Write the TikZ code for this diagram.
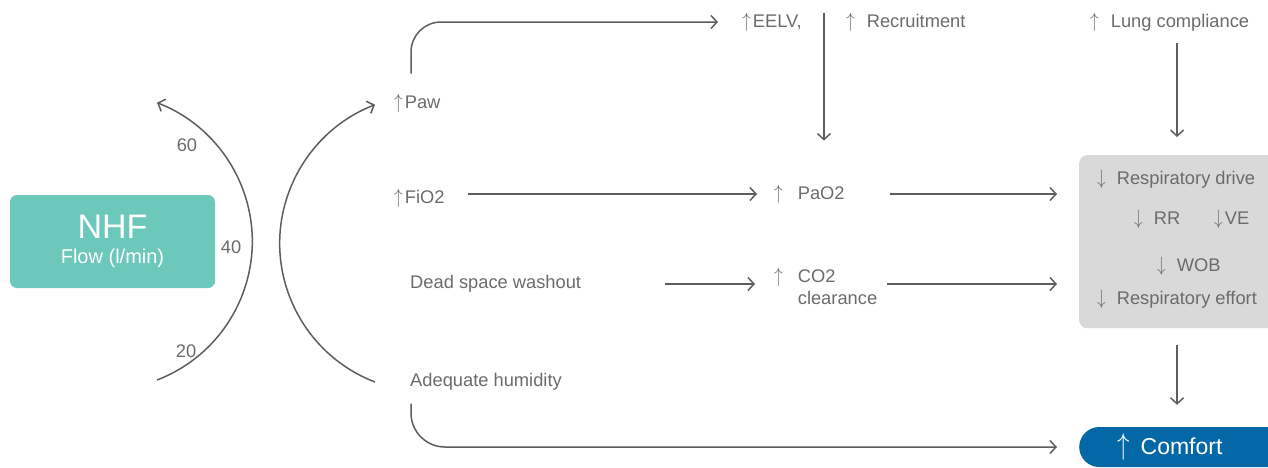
\documentclass[tikz,border=0pt]{standalone}
\usepackage{fontspec}
\setmainfont{Liberation Sans}
\usepackage{graphicx}
\usetikzlibrary{arrows.meta,calc}

\definecolor{tuerkis}{HTML}{6CC8BA}
\definecolor{blau}{HTML}{0568A6}
\definecolor{hellgrau}{HTML}{D9D9D9}
\definecolor{schrift}{HTML}{6B6B6B}
\definecolor{linie}{HTML}{5E5E5E}

\newcommand{\hoch}{\scalebox{1}[1.2]{$\uparrow$}}
\newcommand{\runter}{\scalebox{1}[1.2]{$\downarrow$}}

\begin{document}
\begin{tikzpicture}[x=1pt, y=-1pt,
		>={Straight Barb[length=6pt,width=13pt]},
		pfeil/.style={->, line width=1.5pt, draw=linie},
		txt/.style={anchor=west, inner sep=0pt, text=schrift, font=\fontsize{18.3}{22}\selectfont}]
		% Rahmen
		\useasboundingbox (0,0) rectangle (1268,467);
		\clip (0,0) rectangle (1268,467);
		
		% zeichne NHF Box
		\node[fill=tuerkis, rounded corners=7pt, minimum width=205pt, minimum height=93pt, inner sep=0pt, text=white, align=center, font=\fontsize{20}{25}\selectfont] (nhf) at (112.5,241.5) {{\fontsize{34}{36}\selectfont NHF}\\Flow (l/min)};
		
		% zeichne Skala
		\coordinate (flow20) at (157,380);
		\draw[pfeil] (flow20) arc[start angle=69, end angle=-69, radius=148.5];
		\node[txt, anchor=center] (n60) at (187,145) {60};
		\node[txt, anchor=center] (n40) at (231,247) {40};
		\node[txt, anchor=center] (n20) at (186,351) {20};
		
		% zeichne Labels
		\node[txt] (paw) at (394,103) {\hoch\hspace{2pt}Paw};
		\node[txt] (fio2) at (394,198) {\hoch\hspace{2pt}FiO2};
		\node[txt] (dead) at (410,284) {Dead space washout};
		\node[txt] (humid) at (410,382) {Adequate humidity};
		\node[txt] (eelv) at (742,22) {\hoch\hspace{2pt}EELV,};
		\node[txt] (recr) at (846,22) {\hoch\hspace{12pt}Recruitment};
		\node[txt] (lung) at (1090,22) {\hoch\hspace{12pt}Lung compliance};
		\node[txt] (pao2) at (774,194) {\hoch\hspace{15pt}PaO2};
		\node[txt] (co2) at (774,289) {\begin{tabular}{@{}l@{\hspace{15pt}}l@{}}\hoch & CO2\\ & clearance\end{tabular}};
		
		% zeichne graue Box
		\node[fill=hellgrau, rounded corners=8pt, minimum width=220pt, minimum height=173pt, anchor=north west, inner sep=0pt] (wirkung) at (1079,155) {};
		\node[txt] (drive) at (1097,179) {\runter\hspace{11pt}Respiratory drive};
		\node[txt] (rr) at (1134,219) {\runter\hspace{11pt}RR};
		\node[txt] (ve) at (1214,219) {\runter\hspace{2pt}VE};
		\node[txt] (wob) at (1157,266) {\runter\hspace{11pt}WOB};
		\node[txt] (effort) at (1097,299) {\runter\hspace{11pt}Respiratory effort};
		
		% Comfort
		\node[fill=blau, rounded corners=20pt, anchor=west, minimum height=40pt, text width=150pt, align=left, inner xsep=38pt, inner ysep=0pt, text=white, font=\fontsize{23}{26}\selectfont] (comfort) at (1079,447) {\hoch\hspace{11pt}Comfort};
		
		% zeichne Pfeile
		\coordinate (humidarc) at ([xshift=-35pt]humid.west);
		\draw[pfeil] (humidarc) arc[start angle=111, end angle=249, radius=148.5];
		
		\coordinate (pawtop) at ([xshift=17pt]paw.north west);
		\draw[pfeil, rounded corners=30pt, shorten <=20pt, shorten >=24pt] (pawtop) -- (pawtop |- eelv.west) -- (eelv.west);
		
		\coordinate (humidbot) at ([xshift=1pt]humid.south west);
		\draw[pfeil, rounded corners=34pt, shorten <=13pt, shorten >=22pt] (humidbot) -- (humidbot |- comfort.west) -- (comfort.west);
		
		\draw[pfeil, shorten <=23pt, shorten >=17pt] (fio2.east |- pao2.west) -- (pao2.west);
		\draw[pfeil, shorten <=45pt, shorten >=22pt] (pao2.east) -- (pao2.east -| wirkung.west);
		\draw[pfeil, shorten <=84pt, shorten >=19pt] (dead.east) -- (dead.east -| co2.west);
		\draw[pfeil, shorten <=10pt, shorten >=22pt] (dead.east -| co2.east) -- (dead.east -| wirkung.west);
		
		\coordinate (eelvrecr) at ($(eelv.north east)!0.5!(recr.north west)$);
		\draw[pfeil, shorten >=44pt] (eelvrecr) -- (eelvrecr |- pao2.north);
		
		\draw[pfeil, shorten <=12pt, shorten >=18pt] (lung.south -| effort) -- (wirkung.north -| effort);
		\draw[pfeil, shorten <=17pt, shorten >=22pt] (wirkung.south -| effort) -- (comfort.north -| effort);
	\end{tikzpicture}
\end{document}
